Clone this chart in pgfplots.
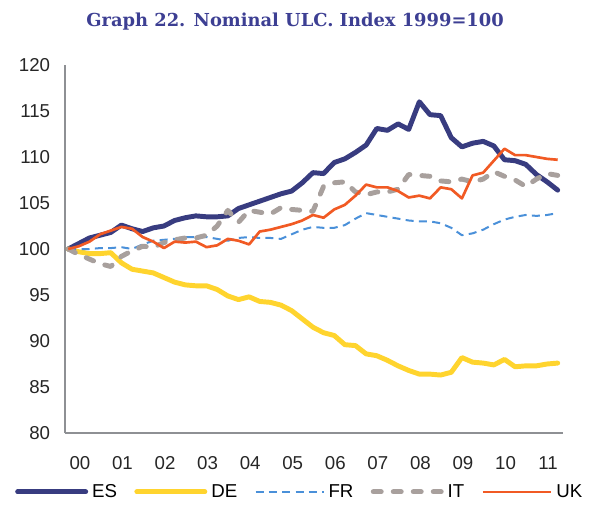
\documentclass[border=0pt]{standalone}
\usepackage{pgfplots}
\pgfplotsset{compat=1.18}
\usepackage{fontspec}
\setmainfont{Liberation Sans}
\newfontfamily\titlefont{DejaVu Serif}
\definecolor{cES}{HTML}{383C80}
\definecolor{cDE}{HTML}{FFD42E}
\definecolor{cFR}{HTML}{4A90D9}
\definecolor{cIT}{HTML}{A8A09D}
\definecolor{cUK}{HTML}{F15A24}
\definecolor{cTitle}{HTML}{3D3F93}
\definecolor{cAxis}{HTML}{8E9094}
\begin{document}
\begin{tikzpicture}
\useasboundingbox (-48.75pt,-56.25pt) rectangle (395.25pt,324.75pt);
\begin{axis}[
  scale only axis,
  width=373.5pt, height=276pt,
  xmin=-0.3, xmax=46.5, ymin=80, ymax=120,
  ytick={80,85,...,120},
  xtick={1.1,5.1,9.1,13.1,17.1,21.1,25.1,29.1,33.1,37.1,41.1,45.1},
  xticklabels={00,01,02,03,04,05,06,07,08,09,10,11},
  axis x line*=bottom, axis y line*=left,
  axis line style={cAxis, line width=1.1pt, -},
  major tick length=0pt,
  /pgf/number format/assume math mode=true,
  ticklabel style={font=\fontsize{14}{16}\selectfont, text=black!85},
  yticklabel style={inner sep=0pt, anchor=east, xshift=-11pt},
  xticklabel style={inner sep=0pt, anchor=center, yshift=-22.5pt},
  title={\titlefont\bfseries Graph 22. Nominal ULC. Index 1999=100},
  title style={at={(0.462,1.095)}, anchor=center, text=cTitle, font=\fontsize{13.4}{15}\selectfont},
  legend columns=5,
  legend style={at={(0.472,-0.160)}, anchor=center, draw=none, fill=none,
    font=\fontsize{14}{16}\selectfont, inner sep=0pt,
    nodes={inner xsep=2pt},
    /tikz/every odd column/.append style={column sep=1pt},
    /tikz/every even column/.append style={column sep=11pt}},
  legend image code/.code={\draw[#1] (0pt,0pt) -- (51pt,0pt);},
  line join=round,
]
\addplot[cES, line width=3.7pt, line cap=round] coordinates {
(0,100) (1,100.6) (2,101.2) (3,101.5) (4,101.8) (5,102.6) (6,102.2) (7,101.9)
(8,102.3) (9,102.5) (10,103.1) (11,103.4) (12,103.6) (13,103.5) (14,103.5) (15,103.6)
(16,104.4) (17,104.8) (18,105.2) (19,105.6) (20,106.0) (21,106.3) (22,107.2) (23,108.3)
(24,108.2) (25,109.4) (26,109.8) (27,110.5) (28,111.3) (29,113.1) (30,112.9) (31,113.6)
(32,113.0) (33,116.0) (34,114.6) (35,114.5) (36,112.1) (37,111.1) (38,111.5) (39,111.7)
(40,111.2) (41,109.7) (42,109.6) (43,109.2) (44,108.1) (45,107.3) (46,106.4)};
\addlegendentry{ES}
\addplot[cDE, line width=3.7pt, line cap=round] coordinates {
(0,100) (1,99.7) (2,99.5) (3,99.5) (4,99.6) (5,98.5) (6,97.8) (7,97.6)
(8,97.4) (9,96.9) (10,96.4) (11,96.1) (12,96.0) (13,96.0) (14,95.6) (15,94.9)
(16,94.5) (17,94.8) (18,94.3) (19,94.2) (20,93.9) (21,93.3) (22,92.4) (23,91.5)
(24,90.9) (25,90.6) (26,89.6) (27,89.5) (28,88.6) (29,88.4) (30,87.9) (31,87.3)
(32,86.8) (33,86.4) (34,86.4) (35,86.3) (36,86.6) (37,88.2) (38,87.7) (39,87.6)
(40,87.4) (41,88.0) (42,87.2) (43,87.3) (44,87.3) (45,87.5) (46,87.6)};
\addlegendentry{DE}
\addplot[cFR, line width=1.5pt, dash pattern=on 6pt off 4pt] coordinates {
(0,100) (1,100) (2,100) (3,100.1) (4,100.1) (5,100.2) (6,100.0) (7,100.5)
(8,100.9) (9,101.0) (10,101.1) (11,101.3) (12,101.3) (13,101.3) (14,101.1) (15,100.9)
(16,101.2) (17,101.3) (18,101.2) (19,101.2) (20,101.1) (21,101.6) (22,102.1) (23,102.4)
(24,102.3) (25,102.3) (26,102.6) (27,103.3) (28,103.9) (29,103.7) (30,103.5) (31,103.3)
(32,103.1) (33,103.0) (34,103.0) (35,102.8) (36,102.3) (37,101.5) (38,101.7) (39,102.1)
(40,102.7) (41,103.2) (42,103.5) (43,103.7) (44,103.6) (45,103.7) (46,103.9)};
\addlegendentry{FR}
\addplot[cIT, line width=3.7pt, line cap=round, dash pattern=on 6pt off 9pt] coordinates {
(0,100) (1,99.4) (2,98.9) (3,98.4) (4,98.1) (5,99.2) (6,99.8) (7,100.3)
(8,100.2) (9,100.7) (10,101.0) (11,101.2) (12,101.2) (13,101.5) (14,102.5) (15,104.2)
(16,102.9) (17,104.2) (18,104.0) (19,103.8) (20,104.5) (21,104.3) (22,104.2) (23,104.1)
(24,106.8) (25,107.2) (26,107.3) (27,106.2) (28,105.9) (29,106.2) (30,106.2) (31,106.5)
(32,108.1) (33,108.0) (34,107.9) (35,107.4) (36,107.3) (37,107.6) (38,107.3) (39,107.6)
(40,108.4) (41,107.9) (42,107.5) (43,106.8) (44,107.6) (45,108.2) (46,108.0)};
\addlegendentry{IT}
\addplot[cUK, line width=2pt] coordinates {
(0,100) (1,100.3) (2,100.8) (3,101.6) (4,102.0) (5,102.4) (6,102.2) (7,101.3)
(8,100.8) (9,100.1) (10,100.8) (11,100.7) (12,100.8) (13,100.2) (14,100.4) (15,101.1)
(16,100.9) (17,100.5) (18,101.9) (19,102.1) (20,102.4) (21,102.7) (22,103.1) (23,103.7)
(24,103.4) (25,104.3) (26,104.8) (27,105.8) (28,107.0) (29,106.7) (30,106.7) (31,106.3)
(32,105.6) (33,105.8) (34,105.5) (35,106.7) (36,106.5) (37,105.5) (38,108.0) (39,108.3)
(40,109.6) (41,110.9) (42,110.2) (43,110.2) (44,110.0) (45,109.8) (46,109.7)};
\addlegendentry{UK}
\end{axis}
\end{tikzpicture}
\end{document}
